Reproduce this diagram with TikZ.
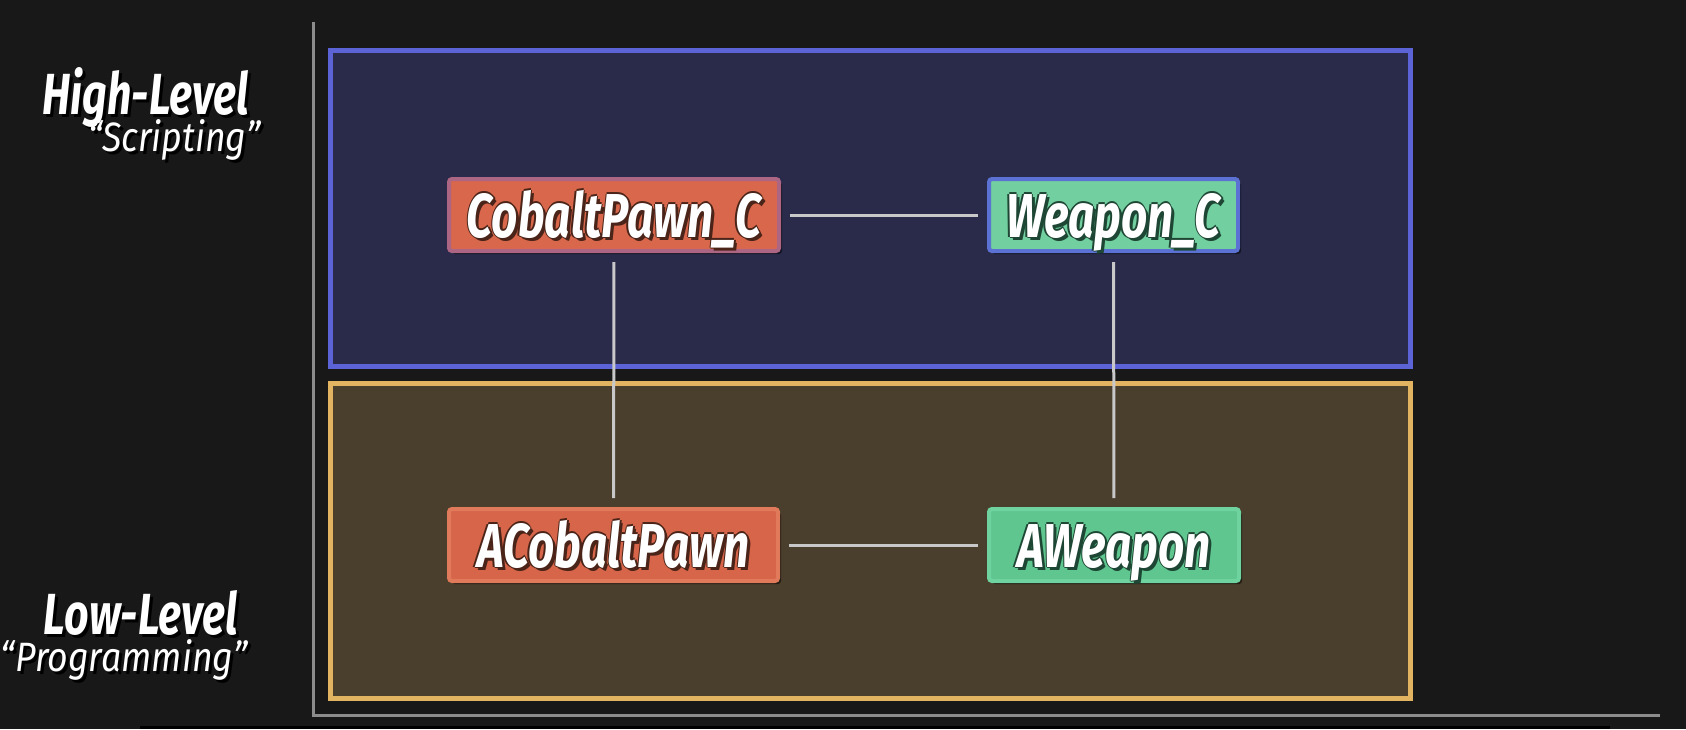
\documentclass[tikz,border=0pt]{standalone}
\usepackage{fontspec}
\newfontfamily\dfont{Fira Sans}[FakeStretch=0.74]
\newfontfamily\sfont{Fira Sans}[FakeStretch=0.87]
\usetikzlibrary{shadows}
\definecolor{bg}{HTML}{181818}
\definecolor{axisgrey}{HTML}{8C8C8C}
\definecolor{hiFill}{HTML}{2A2B4A}
\definecolor{hiLine}{HTML}{5B63D6}
\definecolor{loFill}{HTML}{4A3E2C}
\definecolor{loLine}{HTML}{E2B462}
\definecolor{cpFill}{HTML}{D8674B}
\definecolor{cpLine}{HTML}{AC6684}
\definecolor{wcFill}{HTML}{72CF9F}
\definecolor{wcLine}{HTML}{5B72D4}
\definecolor{acpFill}{HTML}{D6654A}
\definecolor{acpLine}{HTML}{E07A5A}
\definecolor{awFill}{HTML}{5FC68F}
\definecolor{awLine}{HTML}{6FD3A0}
\definecolor{brownOut}{HTML}{4A2418}
\definecolor{greenOut}{HTML}{1E4634}
\definecolor{connGrey}{HTML}{C8C8C8}
\newcommand{\outl}[2]{\leavevmode
 \rlap{\kern3pt\raisebox{-3pt}{\textcolor{#1}{#2}}}%
 \rlap{\kern-1.5pt\textcolor{#1}{#2}}%
 \rlap{\kern1.5pt\textcolor{#1}{#2}}%
 \rlap{\raisebox{1.5pt}{\textcolor{#1}{#2}}}%
 \rlap{\raisebox{-1.5pt}{\textcolor{#1}{#2}}}%
 \textcolor{white}{#2}}
\newcommand{\shd}[1]{\leavevmode
 \rlap{\kern3pt\raisebox{-3pt}{\textcolor{black}{#1}}}%
 \textcolor{white}{#1}}
\tikzset{
  region/.style={line width=5pt},
  classbox/.style={rounded corners=3pt, line width=4pt, minimum width=#1,
    minimum height=72pt, inner sep=0pt, text height=44pt, text depth=0pt,
    font=\dfont\bfseries\itshape\fontsize{62}{62}\selectfont,
    drop shadow={shadow xshift=3pt, shadow yshift=-3pt, opacity=0.5, fill=black}},
  conn/.style={draw=connGrey, line width=3pt, shorten >=9pt, shorten <=9pt},
  axisline/.style={draw=axisgrey, line width=3pt},
  biglbl/.style={inner sep=0pt, font=\dfont\bfseries\itshape\fontsize{#1}{#1}\selectfont},
  smalllbl/.style={inner sep=0pt, font=\sfont\itshape\fontsize{#1}{#1}\selectfont}
}
\begin{document}
\begin{tikzpicture}[x=1pt,y=-1pt]
\fill[bg] (0,0) rectangle (1686,729);
\useasboundingbox (0,0) rectangle (1686,729);
% bottom video bar
\fill[black] (140,726) rectangle (1610,729);
% axes
\draw[axisline] (313,22) -- (313,715) -- (1660,715);
% regions
\draw[region, draw=hiLine, fill=hiFill] (330.5,50.5) rectangle (1410.5,366.5);
\draw[region, draw=loLine, fill=loFill] (330.5,383.5) rectangle (1410.5,698.5);
% class boxes
\node[classbox=330pt, draw=cpLine, fill=cpFill] (cp) at (614,215) {\outl{brownOut}{CobaltPawn\_C}};
\node[classbox=249pt, draw=wcLine, fill=wcFill] (wc) at (1113.5,215) {\outl{greenOut}{Weapon\_C}};
\node[classbox=329pt, draw=acpLine, fill=acpFill] (acp) at (613.5,545) {\outl{brownOut}{ACobaltPawn}};
\node[classbox=250pt, draw=awLine, fill=awFill] (aw) at (1114,545) {\outl{greenOut}{AWeapon}};
% connectors
\draw[conn] (cp) -- (wc);
\draw[conn] (acp) -- (aw);
\draw[conn] (cp.south) -- (acp.north);
\draw[conn] (wc.south) -- (aw.north);
% side labels
\node[biglbl=58, anchor=base east] (hl) at (249,114) {\shd{High-Level}};
\node[smalllbl=41, anchor=base east] (sc) at (261,151) {\shd{“Scripting”}};
\node[biglbl=58, anchor=base east] (ll) at (238,634) {\shd{Low-Level}};
\node[smalllbl=41, anchor=base east] (pr) at (248,671) {\shd{“Programming”}};
\end{tikzpicture}
\end{document}
